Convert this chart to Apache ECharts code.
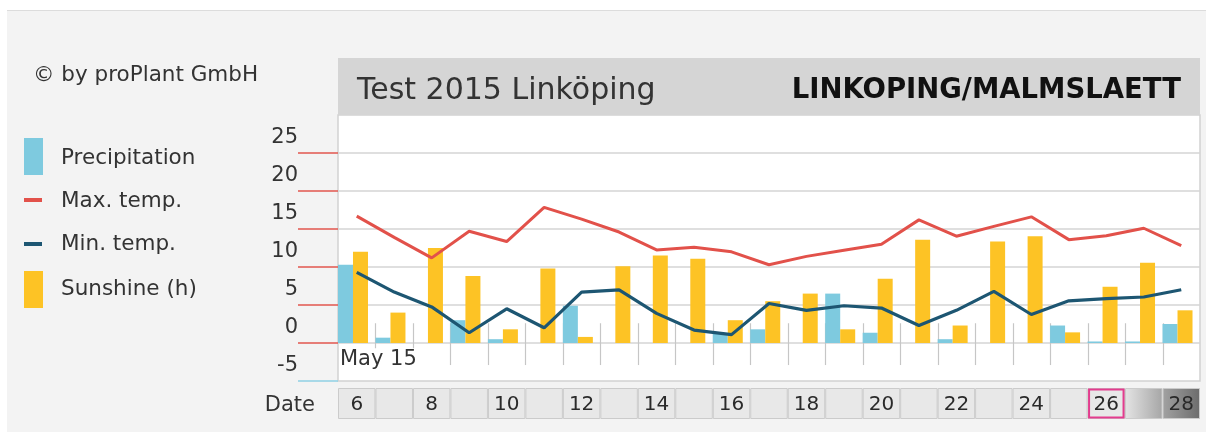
<!DOCTYPE html>
<html><head><meta charset="utf-8">
<script src="https://cdn.jsdelivr.net/npm/echarts@6/dist/echarts.min.js"></script>
<style>
html,body{margin:0;padding:0;background:#fff;}
#panel{position:absolute;left:7px;top:10px;width:1199px;height:422px;background:#f3f3f3;border-top:1px solid #dcdcdc;}
#chart{position:absolute;left:0;top:0;width:1206px;height:432px;}
</style></head><body>
<div id="panel"></div><div id="chart"></div>
<script>
// ---- data ----
const days = ['6','7','8','9','10','11','12','13','14','15','16','17','18','19','20','21','22','23','24','25','26','27','28'];
const monthLabel = 'May 15';
const precipitation = [10.3, 0.7, 0, 3.0, 0.5, 0, 4.9, 0, 0, 0, 1.25, 1.8, 0, 6.5, 1.35, 0, 0.5, 0, 0, 2.3, 0.2, 0.2, 2.5];
const sunshine      = [12.0, 4.0, 12.5, 8.8, 1.8, 9.8, 0.8, 10.1, 11.5, 11.1, 3.0, 5.5, 6.5, 1.8, 8.45, 13.6, 2.3, 13.35, 14.05, 1.4, 7.4, 10.55, 4.3];
const maxTemp       = [16.7, 13.9, 11.2, 14.7, 13.35, 17.85, 16.3, 14.6, 12.25, 12.6, 12.0, 10.3, 11.4, 12.2, 13.0, 16.2, 14.05, 15.35, 16.6, 13.6, 14.1, 15.1, 12.8];
const minTemp       = [9.3, 6.7, 4.75, 1.35, 4.5, 2.0, 6.7, 7.0, 3.9, 1.7, 1.1, 5.2, 4.3, 4.9, 4.6, 2.3, 4.3, 6.8, 3.75, 5.55, 5.85, 6.05, 7.0];
const yTickLabels = [-5, 0, 5, 10, 15, 20, 25];
const seriesNames = ['Precipitation', 'Max. temp.', 'Min. temp.', 'Sunshine (h)'];
const titleLeft = 'Test 2015 Linköping';
const titleRight = 'LINKOPING/MALMSLAETT';
const copyright = '© by proPlant GmbH';
const dateRowLabel = 'Date';
const todayDay = '26';

// ---- styles ----
const C = { precip:'#7ecadf', sun:'#fdc325', max:'#e2514a', min:'#1d5672', text:'#333' };
const FONT = '"DejaVu Sans", sans-serif';
const fadedCells = { '27': ['#e4e4e4', '#a6a6a6'], '28': ['#a2a2a2', '#6c6c6c'] };

const chart = echarts.init(document.getElementById('chart'), null, {renderer:'canvas'});

const legendItems = [
  {type:'rect', shape:{x:24,y:138,width:19,height:37}, style:{fill:C.precip}},
  {type:'rect', shape:{x:24,y:198,width:18,height:4}, style:{fill:C.max}},
  {type:'rect', shape:{x:24,y:242,width:18,height:4}, style:{fill:C.min}},
  {type:'rect', shape:{x:24,y:271,width:19,height:37}, style:{fill:C.sun}},
];
const legendY = [158, 201, 244, 289];
seriesNames.forEach((n, i) => legendItems.push({type:'text', style:{text:n, x:61, y:legendY[i], verticalAlign:'middle', font:'21.5px ' + FONT, fill:C.text}}));

const option = {
  animation:false,
  textStyle:{fontFamily:FONT},
  graphic:[
    {type:'text', style:{text:copyright, x:33, y:75, verticalAlign:'middle', font:'21.5px ' + FONT, fill:C.text}},
    {type:'rect', shape:{x:338,y:58,width:862,height:57}, style:{fill:'#d5d5d5'}},
    {type:'text', style:{text:titleLeft, x:357, y:91, verticalAlign:'middle', font:'30px ' + FONT, fill:'#333'}},
    {type:'text', style:{text:titleRight, x:1181, y:91, align:'right', verticalAlign:'middle', font:'bold 27.5px ' + FONT, fill:'#111'}},
    {type:'text', style:{text:dateRowLabel, x:315, y:406, align:'right', verticalAlign:'middle', font:'21px ' + FONT, fill:C.text}},
    ...legendItems
  ],
  grid:[
    {left:338, right:6, top:115, bottom:51, show:true, backgroundColor:'#fff', borderColor:'#d2d2d2', borderWidth:1.5},
    {left:338, right:6, top:388, height:31}
  ],
  xAxis:[
    {type:'category', gridIndex:0, data:days, show:false},
    {type:'category', gridIndex:1, data:days, show:false}
  ],
  yAxis:[
    {type:'value', gridIndex:0, position:'left', min:-5, max:30, interval:5,
      axisLine:{show:false},
      axisTick:{show:true, length:40, customValues:[0,5,10,15,20,25], lineStyle:{color:'#e2574f', width:1.5}},
      axisLabel:{show:true, margin:40, customValues:yTickLabels, fontSize:21, color:C.text, verticalAlign:'bottom', lineHeight:21, padding:[0,0,5,0]},
      splitLine:{show:true, lineStyle:{color:'#d5d5d5', width:1.5}}
    },
    {type:'value', gridIndex:0, position:'left', offset:0, min:-5, max:30, interval:5,
      axisLine:{show:false}, axisLabel:{show:false}, splitLine:{show:false},
      axisTick:{show:true, length:40, customValues:[-5], lineStyle:{color:'#8fd1e4', width:1.5}}
    },
    {type:'value', gridIndex:1, min:0, max:1, show:false}
  ],
  series:[
    {type:'custom', name:'dayTicks', xAxisIndex:0, yAxisIndex:0, z:1, silent:true,
      data: days.map(d => [d, 0]),
      renderItem:function(params, api){
        const i = params.dataIndex;
        const c = api.coord([i, 0]);
        const w = api.size([1, 0])[0];
        const x = c[0] - w / 2;
        if (i === 0) {
          return {type:'text', z2:10, style:{text:monthLabel, x:x + 2, y:api.coord([i, -2.2])[1], verticalAlign:'middle', font:'21px ' + FONT, fill:C.text, backgroundColor:'#fff', padding:[1,2,1,0]}};
        }
        const xs = Math.round(x) + 0.5;
        return {type:'line', shape:{x1:xs, y1:api.coord([i, 2.6])[1], x2:xs, y2:api.coord([i, -2.9])[1]}, style:{stroke:'#c6c6c6', lineWidth:1.2}};
      }
    },
    {type:'bar', name:seriesNames[0], data:precipitation, barWidth:15, barGap:'0%', itemStyle:{color:C.precip}, z:2},
    {type:'bar', name:seriesNames[3], data:sunshine, barWidth:15, barGap:'0%', itemStyle:{color:C.sun}, z:2},
    {type:'bar', name:'spacer', data:[], barWidth:7.5, barGap:'0%', silent:true, itemStyle:{color:'rgba(0,0,0,0)'}},
    {type:'line', name:seriesNames[1], data:maxTemp, symbol:'none', lineStyle:{color:C.max, width:3}, z:3},
    {type:'line', name:seriesNames[2], data:minTemp, symbol:'none', lineStyle:{color:C.min, width:3.2}, z:3},
    {type:'custom', name:'dateRow', xAxisIndex:1, yAxisIndex:2, silent:true,
      data: days.map(d => [d, 1]),
      renderItem:function(params, api){
        const i = params.dataIndex;
        const day = days[i];
        const c0 = api.coord([i, 0]);
        const c1 = api.coord([i, 1]);
        const w = api.size([1, 0])[0];
        const x = c0[0] - w / 2;
        const h = c0[1] - c1[1];
        let fill = '#e8e8e8';
        if (fadedCells[day]) {
          fill = new echarts.graphic.LinearGradient(0, 0, 1, 0, [{offset:0, color:fadedCells[day][0]}, {offset:1, color:fadedCells[day][1]}]);
        }
        const children = [{type:'rect', shape:{x:x + 0.5, y:c1[1] + 0.5, width:w - 1, height:h - 1}, style:{fill:fill, stroke:'#cbcbcb', lineWidth:1}}];
        if (day === todayDay) {
          children.push({type:'rect', shape:{x:x + 1.5, y:c1[1] + 1.5, width:w - 3, height:h - 3}, style:{fill:'none', stroke:'#e33c8e', lineWidth:2}});
        }
        if (Number(day) % 2 === 0) {
          children.push({type:'text', style:{text:day, x:c0[0], y:c1[1] + h / 2 + 1, align:'center', verticalAlign:'middle', font:'20px ' + FONT, fill:'#2a2a2a'}});
        }
        return {type:'group', children:children};
      }
    }
  ]
};
chart.setOption(option);
</script>
</body></html>
